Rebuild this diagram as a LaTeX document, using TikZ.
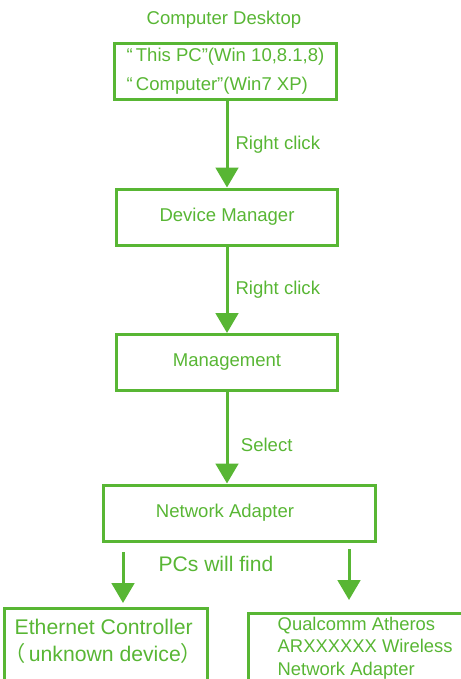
\documentclass[tikz,border=0pt]{standalone}
\usepackage{fontspec}
\setmainfont{Liberation Sans}
\newfontfamily\cjk[RawFeature=+palt]{Noto Sans CJK SC}
\usetikzlibrary{arrows.meta}
\usetikzlibrary{positioning}
\definecolor{flowgreen}{RGB}{88,182,52}

\begin{document}
\begin{tikzpicture}[x=0.75pt,y=-0.75pt,
    flowbox/.style={draw=flowgreen,line width=2.25pt,text=flowgreen,
      minimum width=166pt,minimum height=42pt,font=\fontsize{13.9}{21.75}\selectfont},
    flow/.style={draw=flowgreen,line width=2.25pt,-{Triangle[width=17pt,length=15pt]}},
    steplabel/.style={text=flowgreen,font=\fontsize{13.9}{16}\selectfont}]
    \useasboundingbox (0,0) rectangle (461,679);

    % main steps
    \node[flowbox,align=left,font=\fontsize{13.9}{21.75}\selectfont] (desktop) at (225.5,71.5)
      {“\,This PC”(Win 10,8.1,8)\\“\,Computer”(Win7 XP)};
    \node[steplabel] (title) at (224,20) {Computer Desktop};
    \node[flowbox] (devmgr) at (227,217) {Device Manager};
    \node[flowbox] (mgmt) at (227,362.5) {Management};
    \node[flowbox,minimum width=204pt] (adapter) at (239,513) {Network Adapter\kern21pt};

    % found devices
    \node[flowbox,anchor=north west,minimum width=152pt,minimum height=90pt] (ether) at (3,607) {};
    \node[steplabel,anchor=west,align=left,font=\fontsize{15.9}{20}\selectfont] (ethertxt) at (10,641.5)
      {Ethernet Controller\\{\cjk （}\,unknown device{\cjk ）}};
    \node[flowbox,anchor=north west,minimum width=175pt,minimum height=90pt] (wifi) at (247,612) {};
    \node[steplabel,anchor=west,align=left,font=\fontsize{13.8}{17}\selectfont] (wifitxt) at (273,648)
      {Qualcomm Atheros\\ARXXXXXX Wireless\\Network Adapter};

    % transitions
    \draw[flow] (desktop.south -| devmgr.north) -- node[steplabel,right,xshift=2pt] {Right click} (devmgr.north);
    \draw[flow] (devmgr.south) -- node[steplabel,right,xshift=2pt] {Right click} (mgmt.north);
    \draw[flow] (mgmt.south) -- node[steplabel,right,pos=0.58,xshift=6pt] {Select} (mgmt.south |- adapter.north);

    \node[steplabel,font=\fontsize{15.8}{18}\selectfont] (find) at (216,564) {PCs will find};
    \coordinate (lstart) at (123,552);
    \coordinate (rstart) at (349,549);
    \draw[flow,shorten >=3pt] (lstart) -- (lstart |- ether.north);
    \draw[flow,shorten >=9pt] (rstart) -- (rstart |- wifi.north);
\end{tikzpicture}
\end{document}
